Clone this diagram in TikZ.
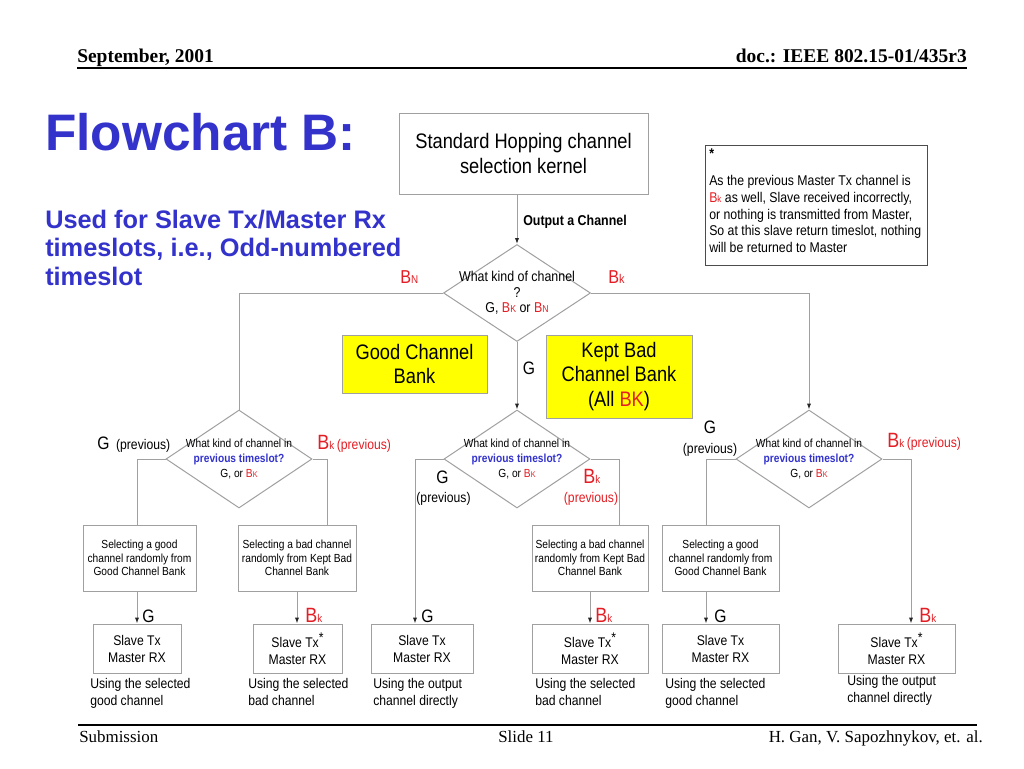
\documentclass[tikz,border=0pt]{standalone}
\usepackage{fontspec}
\setmainfont{Liberation Sans}
\newfontfamily\nar{Liberation Sans}[FakeStretch=0.87]
\newfontfamily\tms{Liberation Serif}
\usetikzlibrary{shapes.geometric,arrows.meta,calc}
\definecolor{ttl}{RGB}{51,51,204}
\definecolor{rd}{RGB}{228,30,36}
\definecolor{ln}{RGB}{160,160,160}
\definecolor{ylw}{RGB}{255,255,0}
\newcommand\fs[2]{\fontsize{#1}{#2}\selectfont}
\newcommand\rB[3]{\textcolor{rd}{{\fontsize{#1}{#1}\selectfont B}{\fontsize{#2}{#2}\selectfont #3}}}
\tikzset{
  box/.style={draw=ln, line width=0.75pt, inner sep=0pt, align=center},
  ybox/.style={box, fill=ylw},
  dia/.style={draw=ln, line width=0.75pt, diamond, inner sep=0pt, minimum width=109.5pt, minimum height=73.5pt},
  con/.style={draw=ln, line width=0.75pt},
  arr/.style={con, -{Latex[length=4.5pt,width=3.2pt,color=black!85]}},
  dtxt/.style={align=center, inner sep=0pt, font=\nar\fs{8.8pt}{10.9pt}},
  sbox/.style={box, minimum height=49.5pt, font=\nar\fs{8.8pt}{10.1pt}},
  slv/.style={box, minimum height=36.75pt, font=\nar\fs{10.5pt}{12.75pt}},
  utxt/.style={anchor=north west, align=left, inner sep=0pt, font=\nar\fs{10.5pt}{12.75pt}},
  lbl/.style={inner sep=0pt, font=\nar},
  glbl/.style={inner sep=0pt, font=\nar\fs{13.5pt}{14pt}},
}
\begin{document}
\begin{tikzpicture}[x=0.75pt,y=-0.75pt]
\fill[white] (0,0) rectangle (1024,768);
\useasboundingbox (0,0) rectangle (1024,768);

% header / footer
\node[anchor=base west, inner sep=0pt, font=\tms\bfseries\fs{14.6pt}{15pt}] (date) at (77,62) {September, 2001};
\node[anchor=base east, inner sep=0pt, font=\tms\bfseries\fs{14.6pt}{15pt}] (doc) at (967,62) {doc.: IEEE 802.15-01/435r3};
\draw[line width=1.5pt] (77,68) -- (967,68);
\draw[line width=1.5pt] (78,725) -- (977,725);
\node[anchor=base west, inner sep=0pt, font=\tms\fs{12.7pt}{13pt}] (subm) at (79,742) {Submission};
\node[anchor=base, inner sep=0pt, font=\tms\fs{12.7pt}{13pt}] (slide) at (526,742) {Slide 11};
\node[anchor=base east, inner sep=0pt, font=\tms\fs{12.7pt}{13pt}] (auth) at (983,742) {H. Gan, V. Sapozhnykov, et. al.};

% title
\node[anchor=base west, inner sep=0pt, text=ttl, font=\bfseries\fs{38.5pt}{40pt}] (title) at (45,150) {Flowchart B:};
\node[anchor=north west, align=left, inner sep=0pt, text=ttl, font=\bfseries\fs{19pt}{21.4pt}] (subt) at (45,209.5) {Used for Slave Tx/Master Rx\\timeslots, i.e., Odd-numbered\\timeslot};

% top box and note
\node[box, minimum width=186.75pt, minimum height=60.75pt, font=\nar\fs{15.75pt}{18.75pt}] (top) at (523.5,153.5) {Standard Hopping channel\\selection kernel};
\node[draw=black!70, line width=0.75pt, inner sep=0pt, minimum width=166.5pt, minimum height=90pt] (note) at (816,205) {};
\node[anchor=north west, align=left, inner sep=0pt, font=\nar\fs{10.6pt}{12.4pt}] (notetxt) at (709,149) {\textbf{*}\\[7.85pt]As the previous Master Tx channel is\\\rB{10.6pt}{7pt}{k} as well, Slave received incorrectly,\\or nothing is transmitted from Master,\\So at this slave return timeslot, nothing\\will be returned to Master};

% main diamond
\node[dia, minimum width=110.25pt, minimum height=72.75pt] (d1) at (517,293) {};
\node[align=center, inner sep=0pt, font=\nar\fs{10.7pt}{11.6pt}] (t1) at (517,293) {What kind of channel\\?\\G, \rB{10.7pt}{7.5pt}{K} or \rB{10.7pt}{7.5pt}{N}};
\node[anchor=base west, inner sep=0pt, font=\nar\bfseries\fs{10.7pt}{12pt}] (oc) at (523,225) {Output a Channel};
\node[anchor=base west, lbl] (lbn) at (400,283) {\rB{14pt}{8.5pt}{N}};
\node[anchor=base west, lbl] (lbk) at (608,283) {\rB{14pt}{9.5pt}{k}};

% banks
\node[ybox, minimum width=108.75pt, minimum height=43.5pt, font=\nar\fs{15.75pt}{18.4pt}] (gcb) at (414.5,364) {Good Channel\\Bank};
\node[ybox, minimum width=109.5pt, minimum height=62.25pt, font=\nar\fs{15.75pt}{18.4pt}] (kbb) at (619,376.5) {Kept Bad\\Channel Bank\\(All \textcolor{rd}{BK})};
\node[glbl] (gm) at (529,368) {G};

% second-level diamonds
\node[dia] (d2) at (239,459) {};
\node[dia] (d3) at (517,459) {};
\node[dia] (d4) at (809,459) {};
\foreach \n/\x in {t2/239,t3/517,t4/809}{
  \node[dtxt] (\n) at (\x,459) {What kind of channel in\\\textcolor{ttl}{\bfseries previous timeslot?}\\G, or \rB{8.8pt}{6.2pt}{K}};
}

% labels on diamonds
\node[anchor=base west, lbl] (g2) at (97,449) {{\fs{13.5pt}{14pt}G}\hspace{5pt}{\fs{10.5pt}{11pt}(previous)}};
\node[anchor=base west, lbl, text=rd] (b2) at (317,449) {\rB{15.5pt}{8.5pt}{k}\hspace{2pt}{\fs{10.5pt}{11pt}(previous)}};
\node[anchor=base west, glbl] (g3) at (436,483) {G};
\node[anchor=base, lbl, font=\nar\fs{10.5pt}{11pt}] (p3) at (443.5,502) {(previous)};
\node[anchor=base west, lbl] (b3) at (583,483) {\rB{15.5pt}{8.5pt}{k}};
\node[anchor=base, lbl, text=rd, font=\nar\fs{10.5pt}{11pt}] (q3) at (591,502) {(previous)};
\node[anchor=base, glbl] (g4) at (710,433) {G};
\node[anchor=base, lbl, font=\nar\fs{10.5pt}{11pt}] (p4) at (710,453) {(previous)};
\node[anchor=base west, lbl, text=rd] (b4) at (887,447) {\rB{15.5pt}{8.5pt}{k}\hspace{2pt}{\fs{10.5pt}{11pt}(previous)}};

% selecting boxes
\node[sbox, minimum width=84.75pt] (sb1) at (139.5,558) {Selecting a good\\channel randomly from\\Good Channel Bank};
\node[sbox, minimum width=88.5pt] (sb2) at (297,558) {Selecting a bad channel\\randomly from Kept Bad\\Channel Bank};
\node[sbox, minimum width=87pt] (sb3) at (590,558) {Selecting a bad channel\\randomly from Kept Bad\\Channel Bank};
\node[sbox, minimum width=87.75pt] (sb4) at (720.5,558) {Selecting a good\\channel randomly from\\Good Channel Bank};

% slave boxes
\node[slv, minimum width=66pt] (s1) at (137,648.5) {Slave Tx\\Master RX};
\node[slv, minimum width=66.75pt] (s2) at (297.5,648.5) {Slave Tx\raisebox{4pt}{*}\\Master RX};
\node[slv, minimum width=76.5pt] (s3) at (422,648.5) {Slave Tx\\Master RX};
\node[slv, minimum width=87pt] (s4) at (590,648.5) {Slave Tx\raisebox{4pt}{*}\\Master RX};
\node[slv, minimum width=87.75pt] (s5) at (720.5,648.5) {Slave Tx\\Master RX};
\node[slv, minimum width=87.75pt] (s6) at (896.5,648.5) {Slave Tx\raisebox{4pt}{*}\\Master RX};

% texts under slave boxes
\node[utxt] (u1) at (90,678) {Using the selected\\good channel};
\node[utxt] (u2) at (248,678) {Using the selected\\bad channel};
\node[utxt] (u3) at (373,678) {Using the output\\channel directly};
\node[utxt] (u4) at (535,678) {Using the selected\\bad channel};
\node[utxt] (u5) at (665,678) {Using the selected\\good channel};
\node[utxt] (u6) at (847,675) {Using the output\\channel directly};

% labels above slave boxes
\node[anchor=base west, glbl] (lg1) at (142,622) {G};
\node[anchor=base west, lbl] (lb2) at (305,622) {\rB{15.5pt}{8.5pt}{k}};
\node[anchor=base west, glbl] (lg3) at (421,622) {G};
\node[anchor=base west, lbl] (lb4) at (595,622) {\rB{15.5pt}{8.5pt}{k}};
\node[anchor=base west, glbl] (lg5) at (714,622) {G};
\node[anchor=base west, lbl] (lb6) at (919,622) {\rB{15.5pt}{8.5pt}{k}};

% connectors
\coordinate (c2l) at (137,459);
\coordinate (c2r) at (327,459);
\coordinate (c3l) at (415,459);
\coordinate (c3r) at (619,459);
\coordinate (c4l) at (706,459);
\coordinate (c4r) at (911,459);

\draw[arr] (d1.north |- top.south) -- (d1.north);
\draw[con] (d1.west) -- (d2.north |- d1.west) -- (d2.north);
\draw[arr] (d1.east) -- (d4.north |- d1.east) -- (d4.north);
\draw[arr] (d1.south) -- (d3.north);

\draw[con] (d2.west) -- (c2l) -- (c2l |- sb1.north);
\draw[con] (d2.east) -- (c2r) -- (c2r |- sb2.north);
\draw[arr] (c2l |- sb1.south) -- (c2l |- s1.north);
\draw[arr] (sb2.south) -- (sb2.south |- s2.north);

\draw[arr] (d3.west) -- (c3l) -- (c3l |- s3.north);
\draw[con] (d3.east) -- (c3r) -- (c3r |- sb3.north);
\draw[arr] (sb3.south) -- (sb3.south |- s4.north);

\draw[con] (d4.west) -- (c4l) -- (c4l |- sb4.north);
\draw[arr] (c4l |- sb4.south) -- (c4l |- s5.north);
\draw[arr] (d4.east) -- (c4r) -- (c4r |- s6.north);
\end{tikzpicture}
\end{document}
